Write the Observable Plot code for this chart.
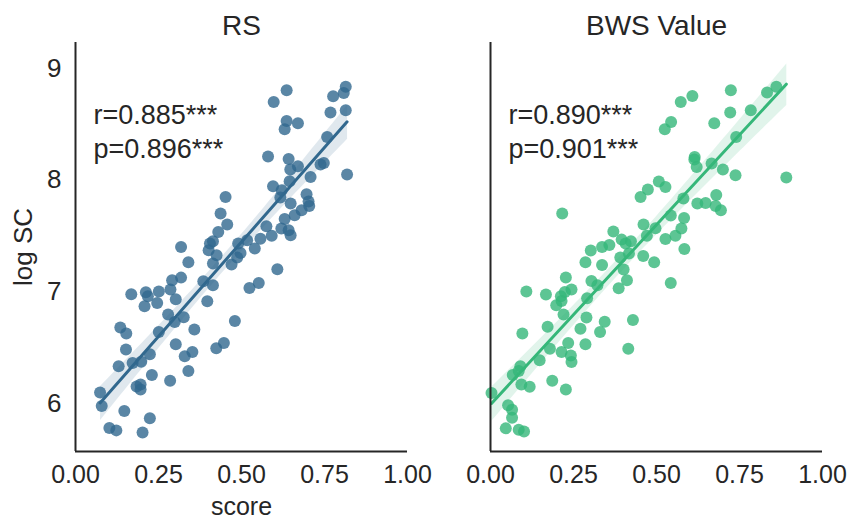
<!DOCTYPE html>
<html><head><meta charset="utf-8">
<script src="https://cdn.jsdelivr.net/npm/d3@7"></script>
<script src="https://cdn.jsdelivr.net/npm/@observablehq/plot@0.6"></script>
<style>body{margin:0;background:#fff;}</style>
</head><body><div id="chart"></div>
<script>
const panels = ["RS", "BWS Value"];
const colors = ["#31688e", "#35b779"];
const rLabels = ["r=0.885***", "r=0.890***"];
const pLabels = ["p=0.896***", "p=0.901***"];
const xTicks = [0, 0.25, 0.5, 0.75, 1];
const yTicks = [6, 7, 8, 9];

const rsScore = [0.636,0.814,0.808,0.776,0.597,0.814,0.768,0.636,0.670,0.630,0.758,0.580,0.642,0.670,0.647,0.738,0.748,0.708,0.818,0.645,
0.595,0.621,0.617,0.696,0.452,0.648,0.702,0.704,0.681,0.660,0.437,0.457,0.430,0.575,0.630,0.620,0.642,0.648,0.591,0.557,
0.318,0.405,0.414,0.401,0.425,0.490,0.517,0.497,0.487,0.540,0.340,0.414,0.470,0.608,0.291,0.318,0.385,0.414,0.552,0.524,
0.168,0.212,0.218,0.251,0.286,0.302,0.246,0.208,0.397,0.279,0.299,0.326,0.480,0.358,0.135,0.153,0.251,0.302,0.152,0.224,
0.352,0.329,0.424,0.447,0.172,0.198,0.130,0.230,0.340,0.285,0.184,0.196,0.196,0.074,0.079,0.147,0.224,0.102,0.123,0.202];
const rsLogSC = [8.803,8.833,8.779,8.749,8.698,8.624,8.603,8.528,8.508,8.454,8.385,8.209,8.188,8.123,8.093,8.138,8.152,8.027,8.048,7.988,
7.944,7.908,7.842,7.872,7.848,7.789,7.807,7.767,7.729,7.684,7.699,7.601,7.534,7.585,7.651,7.565,7.550,7.505,7.500,7.474,
7.400,7.431,7.451,7.371,7.326,7.431,7.460,7.347,7.305,7.386,7.263,7.252,7.243,7.201,7.102,7.126,7.093,7.057,7.078,7.033,
6.977,6.995,6.959,7.001,7.019,6.932,6.899,6.869,6.914,6.795,6.729,6.771,6.738,6.661,6.679,6.625,6.639,6.529,6.482,6.440,
6.460,6.422,6.493,6.541,6.362,6.374,6.332,6.254,6.290,6.204,6.152,6.170,6.124,6.097,5.977,5.932,5.867,5.780,5.759,5.741];

const bwsScore = [0.724,0.608,0.573,0.833,0.861,0.784,0.722,0.544,0.525,0.674,0.740,0.615,0.614,0.666,0.621,0.700,0.738,0.891,0.507,0.527,
0.474,0.452,0.581,0.623,0.648,0.680,0.678,0.694,0.216,0.543,0.583,0.461,0.497,0.575,0.370,0.557,0.527,0.423,0.395,0.471,
0.407,0.584,0.302,0.336,0.358,0.286,0.336,0.391,0.417,0.460,0.493,0.401,0.227,0.304,0.322,0.411,0.386,0.543,0.108,0.167,
0.212,0.224,0.244,0.214,0.198,0.291,0.220,0.289,0.344,0.429,0.172,0.271,0.330,0.096,0.234,0.286,0.179,0.214,0.242,0.244,
0.415,0.148,0.090,0.067,0.085,0.186,0.093,0.118,0.227,0.003,0.053,0.065,0.065,0.046,0.085,0.101];
const bwsLogSC = [8.803,8.752,8.698,8.782,8.833,8.624,8.603,8.519,8.454,8.508,8.385,8.206,8.183,8.147,8.116,8.093,8.042,8.021,7.986,7.937,
7.914,7.848,7.833,7.789,7.794,7.866,7.767,7.729,7.699,7.681,7.660,7.601,7.567,7.565,7.538,7.500,7.472,7.451,7.466,7.500,
7.431,7.382,7.368,7.400,7.418,7.263,7.239,7.305,7.341,7.320,7.263,7.198,7.128,7.096,7.057,7.102,7.030,7.078,7.001,6.974,
6.959,6.997,7.019,6.917,6.878,6.941,6.796,6.770,6.732,6.746,6.687,6.669,6.639,6.625,6.541,6.529,6.490,6.460,6.430,6.370,
6.490,6.386,6.332,6.254,6.290,6.204,6.170,6.150,6.124,6.093,5.983,5.944,5.873,5.777,5.765,5.750];

const points = [
  ...rsScore.map((s, i) => ({panel: panels[0], score: s, logSC: rsLogSC[i]})),
  ...bwsScore.map((s, i) => ({panel: panels[1], score: s, logSC: bwsLogSC[i]}))
];
const notes = panels.map((p, i) => ({panel: p, r: rLabels[i], p: pLabels[i]}));

const ink = "#262626";
const chart = Plot.plot({
  width: 850, height: 519,
  marginLeft: 75, marginRight: 28, marginTop: 42, marginBottom: 68,
  style: {fontFamily: "'Liberation Sans', Arial, sans-serif", color: ink, background: "white"},
  fx: {domain: panels, padding: 0.2, label: null},
  x: {domain: [0, 1]},
  y: {domain: [5.57, 9.23]},
  color: {domain: panels, range: colors},
  marks: [
    Plot.axisFx({anchor: "top", tickSize: 0, tickPadding: 8, fontSize: 28, label: null}),
    Plot.axisX({ticks: xTicks, tickFormat: ".2f", tickSize: 0, tickPadding: 14, fontSize: 25, label: null}),
    Plot.axisY({ticks: yTicks, tickFormat: "d", tickSize: 0, tickPadding: 14, fontSize: 26, label: "log SC", labelAnchor: "center", labelOffset: 62, labelArrow: "none"}),
    Plot.dot(points, {x: "score", y: "logSC", fx: "panel", fill: "panel", r: 6, fillOpacity: 0.8}),
    Plot.linearRegressionY(points, {x: "score", y: "logSC", fx: "panel", stroke: "panel", strokeWidth: 3, ci: 0.95, fillOpacity: 0.15}),
    Plot.text(notes, {fx: "panel", x: 0.054, y: 8.5, text: "r", textAnchor: "start", lineAnchor: "bottom", fontSize: 27, fill: ink}),
    Plot.text(notes, {fx: "panel", x: 0.054, y: 8.195, text: "p", textAnchor: "start", lineAnchor: "bottom", fontSize: 27, fill: ink}),
    Plot.text(["score"], {fx: [panels[0]], frameAnchor: "bottom", dy: 63, lineAnchor: "bottom", text: d => d, fontSize: 25, fill: ink}),
    Plot.ruleX([0], {stroke: ink, strokeWidth: 2}),
    Plot.ruleY([5.57], {stroke: ink, strokeWidth: 2})
  ]
});
document.getElementById("chart").append(chart);
</script>
</body></html>
